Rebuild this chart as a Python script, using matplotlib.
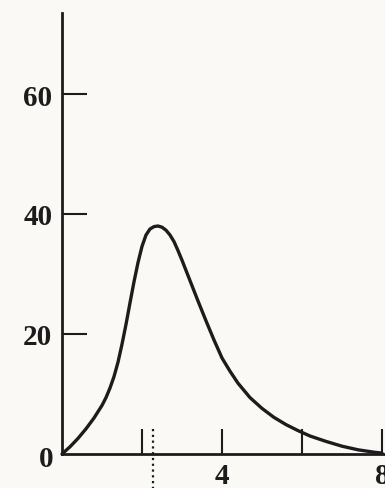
import matplotlib.pyplot as plt

# curve
x_vals = [0.0, 0.2, 0.4, 0.6, 0.8, 1.0, 1.1, 1.2, 1.3, 1.4, 1.5, 1.6, 1.7,
          1.8, 1.9, 2.0, 2.1, 2.2, 2.3, 2.4, 2.5, 2.6, 2.7, 2.8, 2.9, 3.0,
          3.1, 3.2, 3.3, 3.4, 3.6, 3.8, 4.0, 4.2, 4.4, 4.7, 5.0, 5.3, 5.6,
          5.9, 6.2, 6.6, 7.0, 7.4, 7.8, 8.0]
y_vals = [0.0, 1.2, 2.6, 4.2, 6.0, 8.1, 9.4, 11.0, 12.9, 15.3, 18.3, 21.6,
          25.2, 28.7, 31.9, 34.6, 36.5, 37.5, 37.9, 38.0, 37.8, 37.3, 36.5,
          35.4, 33.9, 32.3, 30.6, 28.9, 27.2, 25.5, 22.2, 19.0, 16.0, 13.8,
          11.8, 9.4, 7.6, 6.1, 4.9, 3.9, 3.0, 2.1, 1.3, 0.7, 0.3, 0.15]
y_ticks = [20, 40, 60]
x_ticks = [2, 4, 6, 8]
x_tick_labels = ["", "4", "", "8"]
marker_x = 2.28

INK = "#1c1c1c"
BG = "#fbf9f5"

fig = plt.figure(figsize=(3.85, 4.89), dpi=100, facecolor=BG)
ax = fig.add_axes([62 / 385, 34 / 489, 323 / 385, 441 / 489])
ax.set_facecolor(BG)

ax.plot(x_vals, y_vals, color=INK, lw=2.4, solid_joinstyle="round",
        solid_capstyle="round", clip_on=False)
ax.plot([marker_x, marker_x], [-5.8, 4.3], color=INK, lw=1.6, ls=(0, (1, 1.6)), clip_on=False)

ax.set_xlim(0, 8.075)
ax.set_ylim(0, 73.5)
for side in ["top", "right"]:
    ax.spines[side].set_visible(False)
for side in ["left", "bottom"]:
    ax.spines[side].set_color(INK)
    ax.spines[side].set_linewidth(2.0)

ax.set_yticks(y_ticks)
ax.set_xticks(x_ticks)
ax.set_xticklabels(x_tick_labels)
font = dict(family="Liberation Serif", weight="bold", size=21)
ax.tick_params(axis="both", direction="in", length=18, width=1.5, color=INK,
               labelcolor=INK)
ax.tick_params(axis="y", pad=7)
ax.tick_params(axis="x", pad=6)
for lab in ax.get_xticklabels() + ax.get_yticklabels():
    lab.set_fontfamily(font["family"])
    lab.set_fontweight(font["weight"])
    lab.set_fontsize(font["size"])

ax.text(-0.22, -0.8, "0", ha="right", va="center", color=INK, **font)

fig.savefig("out.png", dpi=100, facecolor=BG)
